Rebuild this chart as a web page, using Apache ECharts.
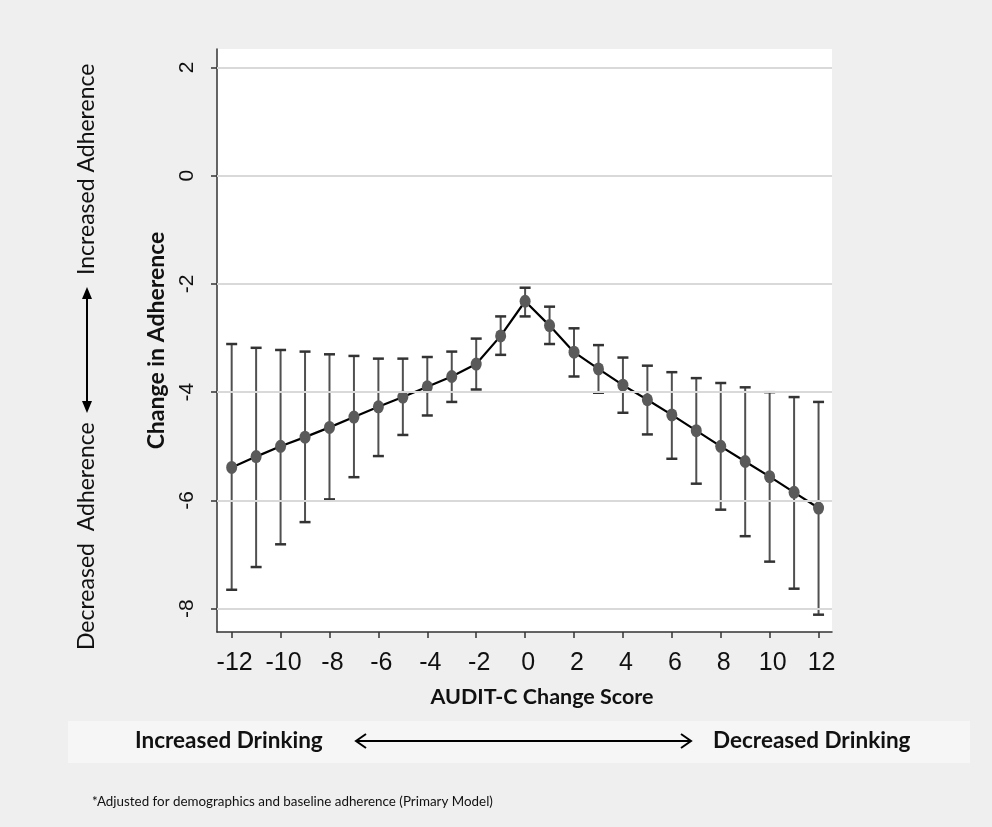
<!DOCTYPE html>
<html>
<head>
<meta charset="utf-8">
<script src="https://cdn.jsdelivr.net/npm/echarts@6/dist/echarts.min.js"></script>
<style>
html,body{margin:0;padding:0;background:#efefef;}
#chart{width:992px;height:827px;}
</style>
</head>
<body>
<div id="chart"></div>
<script>
// AUDIT-C change score (x) and change in adherence (y) with 95% CI
var scores = [-12,-11,-10,-9,-8,-7,-6,-5,-4,-3,-2,-1,0,1,2,3,4,5,6,7,8,9,10,11,12];
var estimate = [-5.39,-5.19,-5.00,-4.83,-4.65,-4.46,-4.27,-4.09,-3.90,-3.71,-3.48,-2.96,-2.32,-2.77,-3.26,-3.57,-3.87,-4.14,-4.42,-4.71,-5.00,-5.28,-5.56,-5.85,-6.14];
var upperCI = [-3.11,-3.18,-3.22,-3.25,-3.30,-3.33,-3.38,-3.38,-3.35,-3.25,-3.01,-2.60,-2.07,-2.42,-2.82,-3.13,-3.36,-3.51,-3.63,-3.74,-3.83,-3.91,-4.00,-4.09,-4.18];
var lowerCI = [-7.65,-7.23,-6.81,-6.40,-5.98,-5.57,-5.18,-4.79,-4.43,-4.18,-3.95,-3.31,-2.60,-3.11,-3.71,-4.01,-4.38,-4.78,-5.23,-5.69,-6.17,-6.66,-7.13,-7.63,-8.11];
var xTicks = [-12,-10,-8,-6,-4,-2,0,2,4,6,8,10,12];
var yTicks = [-8,-6,-4,-2,0,2];

var xLabel = 'AUDIT-C Change Score';
var yLabel = 'Change in Adherence';
var footnote = '*Adjusted for demographics and baseline adherence (Primary Model)';

var chart = echarts.init(document.getElementById('chart'), null, {renderer:'canvas'});

var lineData = scores.map(function(s,i){return [s, estimate[i]];});
var ciData = scores.map(function(s,i){return [s, lowerCI[i], upperCI[i]];});

var nameFont = 'Lato, "Open Sans", sans-serif';
var tickFont = '"Liberation Sans", Arial, sans-serif';

var option = {
  backgroundColor: '#efefef',
  animation: false,
  grid: {left:217, right:160, top:49, bottom:195, show:true, backgroundColor:'#ffffff', borderWidth:0},
  xAxis: {
    type:'value', min:-12.6, max:12.55,
    axisLine:{show:true, onZero:false, lineStyle:{color:'#333', width:1.5}},
    axisTick:{show:true, length:6, lineStyle:{color:'#333', width:1.5}, customValues:xTicks},
    axisLabel:{customValues:xTicks, fontFamily:tickFont, fontSize:25, color:'#111', margin:19, padding:[0,0,0,6]},
    splitLine:{show:false}
  },
  yAxis: {
    type:'value', min:-8.43, max:2.34,
    name: yLabel, nameLocation:'middle', nameGap:49,
    nameTextStyle:{fontFamily:nameFont, fontWeight:'bold', fontSize:23, color:'#111'},
    axisLine:{show:true, onZero:false, lineStyle:{color:'#333', width:1.5}},
    axisTick:{show:true, length:6, lineStyle:{color:'#333', width:1.5}, customValues:yTicks},
    axisLabel:{customValues:yTicks, rotate:90, fontFamily:tickFont, fontSize:21, color:'#111', margin:19},
    splitLine:{show:false}
  },
  series: [
    {
      type:'line', data: yTicks.map(function(v){return [-12.6, v];}), silent:true,
      symbol:'none', lineStyle:{opacity:0}, z:1,
      markLine:{silent:true, symbol:'none', label:{show:false},
        lineStyle:{color:'#d9d9d9', width:2, type:'solid'},
        data: yTicks.map(function(v){return {yAxis:v};})}
    },
    {
      type:'custom', z:3, silent:true,
      data: ciData,
      renderItem: function(params, api){
        var x = api.value(0);
        var lo = api.coord([x, api.value(1)]);
        var hi = api.coord([x, api.value(2)]);
        var hw = 5.5;
        var st = {stroke:'#505050', lineWidth:2};
        return {type:'group', children:[
          {type:'line', shape:{x1:lo[0], y1:lo[1], x2:hi[0], y2:hi[1]}, style:st},
          {type:'line', shape:{x1:lo[0]-hw, y1:lo[1], x2:lo[0]+hw, y2:lo[1]}, style:{stroke:'#333', lineWidth:2.5}},
          {type:'line', shape:{x1:hi[0]-hw, y1:hi[1], x2:hi[0]+hw, y2:hi[1]}, style:{stroke:'#333', lineWidth:2.5}}
        ]};
      }
    },
    {
      type:'line', z:4, data: lineData,
      symbol:'circle', symbolSize:[11,13],
      itemStyle:{color:'#5a5a5a', borderWidth:0},
      lineStyle:{color:'#000', width:2.2}
    }
  ],
  graphic: [
    {type:'rect', left:68, top:721, shape:{width:902, height:42}, style:{fill:'#f6f6f6'}, z:-1},
    {type:'text', x:542, y:697, style:{text:xLabel, font:'bold 21.5px '+nameFont, fill:'#111', textAlign:'center', textVerticalAlign:'middle'}},
    {type:'text', x:135, y:741, style:{text:'Increased Drinking', font:'bold 22.5px '+nameFont, fill:'#111', textVerticalAlign:'middle'}},
    {type:'text', x:713, y:741, style:{text:'Decreased Drinking', font:'bold 22.5px '+nameFont, fill:'#111', textVerticalAlign:'middle'}},
    {type:'line', shape:{x1:357, y1:741, x2:690, y2:741}, style:{stroke:'#000', lineWidth:2}},
    {type:'polyline', shape:{points:[[366,734],[356,741],[366,748]]}, style:{stroke:'#000', lineWidth:2, fill:null}},
    {type:'polyline', shape:{points:[[681,734],[691,741],[681,748]]}, style:{stroke:'#000', lineWidth:2, fill:null}},
    {type:'text', x:92, y:802, style:{text:footnote, font:'13.4px '+nameFont, fill:'#111', textVerticalAlign:'middle'}},
    // left rotated annotation
    {type:'text', x:87, y:650, rotation:Math.PI/2, style:{text:'Decreased  Adherence', font:'23px '+nameFont, fill:'#111', textVerticalAlign:'middle'}},
    {type:'text', x:87, y:275, rotation:Math.PI/2, style:{text:'Increased Adherence', font:'23px '+nameFont, fill:'#111', textVerticalAlign:'middle'}},
    {type:'line', shape:{x1:87, y1:290, x2:87, y2:410}, style:{stroke:'#000', lineWidth:2}},
    {type:'polygon', shape:{points:[[82,299],[87,287],[92,299]]}, style:{fill:'#000'}},
    {type:'polygon', shape:{points:[[82,401],[87,413],[92,401]]}, style:{fill:'#000'}}
  ]
};
chart.setOption(option);
</script>
</body>
</html>
